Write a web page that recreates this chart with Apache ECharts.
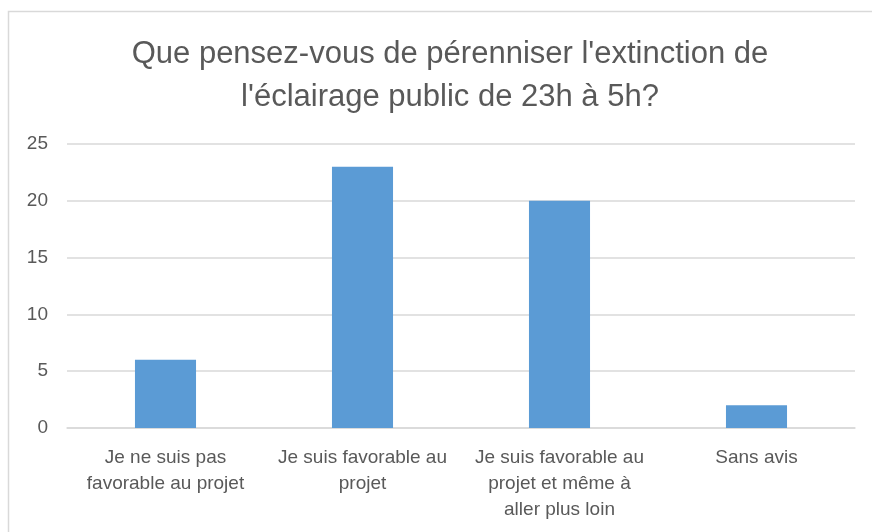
<!DOCTYPE html>
<html>
<head>
<meta charset="utf-8">
<script src="https://cdn.jsdelivr.net/npm/echarts@6/dist/echarts.min.js"></script>
<style>
  html, body { margin: 0; padding: 0; background: #fff; }
  #chart { width: 872px; height: 532px; }
</style>
</head>
<body>
<div id="chart"></div>
<script>
// titre et données
var chartTitle = "Que pensez-vous de pérenniser l'extinction de\nl'éclairage public de 23h à 5h?";
var categories = [
  'Je ne suis pas\nfavorable au projet',
  'Je suis favorable au\nprojet',
  'Je suis favorable au\nprojet et même à\naller plus loin',
  'Sans avis'
];
var values = [6, 23, 20, 2];
var yTicks = [0, 5, 10, 15, 20, 25];

var font = '"Liberation Sans", sans-serif';
var grey = '#595959';
var lineGrey = '#d9d9d9';

var chart = echarts.init(document.getElementById('chart'));

var option = {
  animation: false,
  backgroundColor: '#fff',
  textStyle: { fontFamily: font },
  title: {
    text: chartTitle,
    left: 445,
    textAlign: 'center',
    top: 28,
    textStyle: {
      fontFamily: font,
      fontSize: 31,
      fontWeight: 'normal',
      color: grey,
      lineHeight: 43
    }
  },
  graphic: [{
    type: 'rect',
    shape: { x: 8.5, y: 11.5, width: 900, height: 600 },
    style: { fill: 'none', stroke: lineGrey, lineWidth: 1.5 },
    silent: true
  }],
  grid: {
    left: 67,
    right: 17,
    top: 144,
    bottom: 104
  },
  xAxis: {
    type: 'category',
    data: categories,
    axisLine: { lineStyle: { color: lineGrey, width: 1.5 } },
    axisTick: { show: false },
    axisLabel: {
      interval: 0,
      color: grey,
      fontFamily: font,
      fontSize: 19,
      lineHeight: 26,
      margin: 17
    }
  },
  yAxis: {
    type: 'value',
    min: yTicks[0],
    max: yTicks[yTicks.length - 1],
    interval: 5,
    axisLine: { show: false },
    axisTick: { show: false },
    splitLine: { lineStyle: { color: lineGrey, width: 1.5 } },
    axisLabel: {
      color: grey,
      fontFamily: font,
      fontSize: 19,
      margin: 19
    }
  },
  series: [{
    type: 'bar',
    data: values,
    barWidth: '31%',
    itemStyle: { color: '#5b9bd5' }
  }]
};

chart.setOption(option);
</script>
</body>
</html>
